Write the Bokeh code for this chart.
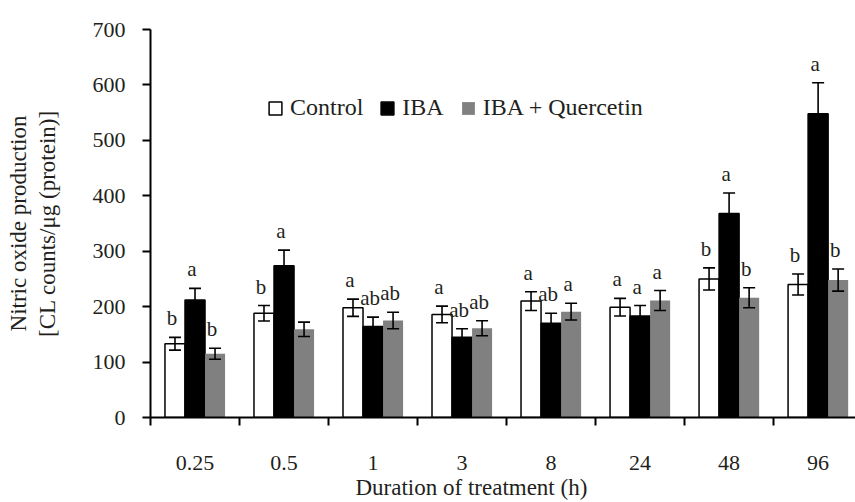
from bokeh.plotting import figure
from bokeh.models import (ColumnDataSource, Range1d, FixedTicker, Whisker, TeeHead,
                          Legend, LegendItem, Title)
from bokeh.core.properties import value
from bokeh.embed import file_html
from bokeh.resources import INLINE

groups = ["0.25", "0.5", "1", "3", "8", "24", "48", "96"]
control = [133, 188, 198, 186, 210, 199, 250, 240]
control_err = [11.5, 14, 15.5, 15, 17, 16, 20, 19]
iba = [212, 274, 164, 145, 170, 183, 368, 548]
iba_err = [21, 28, 17, 15, 18, 19, 37, 56]
ibaq = [115, 159, 175, 161, 191, 211, 216, 248]
ibaq_err = [10, 13, 15, 13.5, 15, 18, 18, 20]
letters_control = ["b", "b", "a", "a", "a", "a", "b", "b"]
letters_iba = ["a", "a", "ab", "ab", "ab", "a", "a", "a"]
letters_ibaq = ["b", "", "ab", "ab", "a", "a", "b", "b"]
series_names = ["Control", "IBA", "IBA + Quercetin"]

FONT = "Liberation Serif"
TXT = "#231f20"
BW = 0.225

p = figure(width=855, height=502, output_backend="svg", toolbar_location=None,
           x_range=Range1d(0, 7.92), y_range=Range1d(0, 700),
           min_border_left=150, min_border_right=0, min_border_top=29,
           min_border_bottom=85)
p.outline_line_color = None
p.xgrid.visible = False
p.ygrid.visible = False
p.background_fill_color = "white"

centers = [i + 0.5 for i in range(len(groups))]
bounds = [i for i in range(len(groups) + 1)]

# x axis
xa = p.xaxis[0]
xa.ticker = FixedTicker(ticks=centers, minor_ticks=bounds)
xa.major_label_overrides = {c: g for c, g in zip(centers, groups)}
xa.major_tick_out = 0
xa.major_tick_in = 0
xa.minor_tick_out = 8
xa.minor_tick_in = 0
xa.minor_tick_line_width = 2
xa.minor_tick_line_color = "black"
xa.axis_line_width = 2
xa.axis_line_color = "black"
xa.major_label_standoff = 30
xa.major_label_text_font = FONT
xa.major_label_text_font_style = "normal"
xa.major_label_text_font_size = "22px"
xa.major_label_text_color = TXT

# y axis
ya = p.yaxis[0]
ya.ticker = FixedTicker(ticks=list(range(0, 701, 100)))
ya.minor_tick_line_color = None
ya.major_tick_out = 8
ya.major_tick_in = 0
ya.major_tick_line_width = 2
ya.major_tick_line_color = "black"
ya.axis_line_width = 2
ya.axis_line_color = "black"
ya.major_label_standoff = 17
ya.major_label_text_font = FONT
ya.major_label_text_font_style = "normal"
ya.major_label_text_font_size = "22px"
ya.major_label_text_color = TXT
ya.axis_label = "[CL counts/μg (protein)]"
ya.axis_label_standoff = 30
ya.axis_label_text_font = FONT
ya.axis_label_text_font_style = "normal"
ya.axis_label_text_font_size = "23px"
ya.axis_label_text_color = TXT

offsets = [-BW, 0.0, BW]
vals = [control, iba, ibaq]
errs = [control_err, iba_err, ibaq_err]
lets = [letters_control, letters_iba, letters_ibaq]
fills = ["white", "black", "#808080"]
lines = ["black", "black", None]

renderers = []
for k in range(3):
    xs = [c + offsets[k] for c in centers]
    src = ColumnDataSource(dict(x=xs, top=vals[k],
                                upper=[v + e for v, e in zip(vals[k], errs[k])],
                                lower=[v - e for v, e in zip(vals[k], errs[k])],
                                lab=lets[k]))
    r = p.vbar(x="x", top="top", width=BW, bottom=0, source=src,
               fill_color=fills[k], line_color=lines[k], line_width=1.5)
    renderers.append(r)
    w = Whisker(base="x", upper="upper", lower="lower", source=src, level="overlay",
                line_color="black", line_width=1.6,
                upper_head=TeeHead(size=12, line_width=1.6, line_color="black"),
                lower_head=TeeHead(size=12, line_width=1.6, line_color="black"))
    p.add_layout(w)
    p.text(x="x", y="upper", text="lab", source=src, text_align="center",
           text_baseline="middle", y_offset=-19, x_offset=-3,
           text_font=value(FONT), text_font_size="21px", text_color=TXT)

legend = Legend(items=[LegendItem(label=series_names[i], renderers=[renderers[i]])
                       for i in range(3)],
                orientation="horizontal", location=(117, 296),
                padding=0, margin=0, spacing=16, label_standoff=7,
                glyph_width=16, glyph_height=16,
                border_line_color=None, background_fill_alpha=0,
                label_text_font=FONT, label_text_font_style="normal",
                label_text_font_size="24px",
                label_text_color=TXT)
p.add_layout(legend, "center")

t2 = Title(text="Nitric oxide production", align="center", standoff=2,
           text_font=FONT, text_font_size="23px", text_font_style="normal",
           text_color=TXT)
p.add_layout(t2, "left")

tx = Title(text="Duration of treatment (h)", align="left", offset=205, standoff=0,
           text_font=FONT, text_font_size="23px", text_font_style="normal",
           text_color=TXT)
p.add_layout(tx, "below")

open("out.html", "w").write(file_html(p, INLINE))
